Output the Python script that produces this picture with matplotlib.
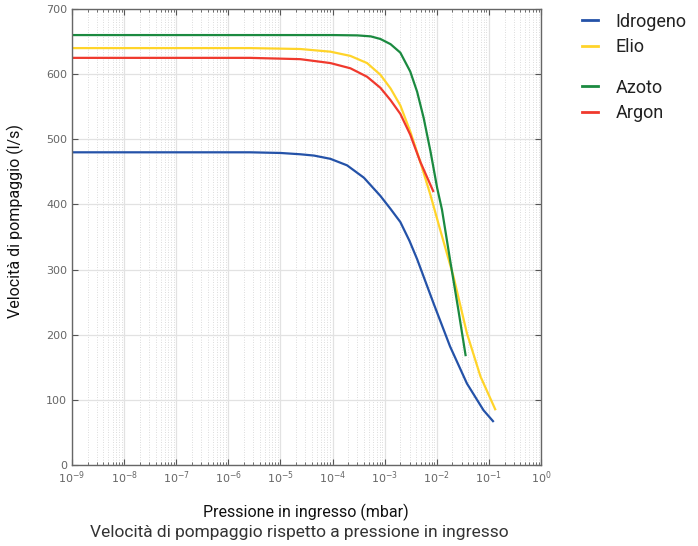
"""Pumping speed vs inlet pressure for four gases."""

import matplotlib.pyplot as plt
from matplotlib.ticker import LogLocator, NullFormatter, FixedLocator
from matplotlib.lines import Line2D

GAS_NAMES = ["Idrogeno", "Elio", "Azoto", "Argon"]
GAS_COLORS = ["#2452a8", "#ffd42a", "#1b8a40", "#f0392d"]

# pressure (mbar) / pumping speed (l/s)
P_IDROGENO = [1e-9, 2.6e-6, 1e-5, 2.4e-5, 4.4e-5, 9.1e-5, 1.9e-4, 4e-4, 8.3e-4,
              1.3e-3, 2e-3, 3e-3, 4.2e-3, 8.7e-3, 1.8e-2, 3.8e-2, 7.9e-2, 1.24e-1]
S_IDROGENO = [480, 480, 479, 477, 475, 470, 460, 441, 413,
              393, 373, 344, 316, 248, 182, 125, 84, 66]

P_ELIO = [1e-9, 2.6e-6, 2.4e-5, 9.1e-5, 2.2e-4, 4.6e-4, 8.3e-4, 1.3e-3, 2e-3,
          3.1e-3, 4.8e-3, 7.6e-3, 1.1e-2, 2.1e-2, 3.8e-2, 6.9e-2, 1.35e-1]
S_ELIO = [640, 640, 638.6, 634.5, 628, 617, 599, 578, 552,
          512, 466, 414, 368, 289, 202, 136, 84]

P_AZOTO = [1e-9, 1e-5, 1e-4, 3e-4, 5.4e-4, 8.3e-4, 1.3e-3, 2e-3, 3.1e-3, 4.2e-3,
           5.6e-3, 7.6e-3, 1.02e-2, 1.26e-2, 1.8e-2, 2.6e-2, 3.6e-2]
S_AZOTO = [660, 660, 660, 659.5, 658, 654, 646, 633, 604, 573,
           533, 481, 425, 392, 315, 238, 167]

P_ARGON = [1e-9, 2.6e-6, 2.4e-5, 9.1e-5, 2.2e-4, 4.6e-4, 8.3e-4, 1.3e-3, 2e-3,
           3.1e-3, 4.8e-3, 8.7e-3]
S_ARGON = [625, 625, 623, 617, 609, 596, 579, 560, 539,
           507, 466, 419]

X_DECADES = list(range(-9, 1))
Y_TICKS = [0, 100, 200, 300, 400, 500, 600, 700]


def main():
    fig = plt.figure(figsize=(6.98, 5.46), dpi=100)
    ax = fig.add_axes([0.1032, 0.1484, 0.6718, 0.8351])

    series = [(P_IDROGENO, S_IDROGENO), (P_ELIO, S_ELIO),
              (P_AZOTO, S_AZOTO), (P_ARGON, S_ARGON)]
    for (p, s), color in zip(series, GAS_COLORS):
        ax.plot(p, s, color=color, lw=1.6, solid_capstyle="butt",
                solid_joinstyle="round")

    ax.set_xscale("log")
    ax.set_xlim(1e-9, 1)
    ax.set_ylim(0, 700)
    ax.xaxis.set_major_locator(FixedLocator([10.0 ** d for d in X_DECADES]))
    ax.set_xticklabels([f"$10^{{{d}}}$" for d in X_DECADES])
    ax.xaxis.set_minor_locator(LogLocator(base=10, subs=range(2, 10), numticks=100))
    ax.xaxis.set_minor_formatter(NullFormatter())
    ax.set_yticks(Y_TICKS)

    ax.grid(True, which="major", color="#e2e2e2", lw=0.9)
    ax.grid(True, which="minor", axis="x", color="#d0d0d0", lw=0.6, ls=(0, (1, 2)))
    ax.set_axisbelow(True)

    ax.tick_params(which="both", direction="in", top=True, right=True,
                   colors="#555555", labelsize=8, labelcolor="#666666")
    ax.tick_params(which="major", length=4)
    ax.tick_params(which="minor", length=2.5)
    for spine in ax.spines.values():
        spine.set_color("#666666")
        spine.set_linewidth(1.0)

    fig.text(306 / 698, 1 - 512 / 546, "Pressione in ingresso (mbar)", ha="center",
             va="center", fontsize=11.5, family="Roboto", color="#111111")
    fig.text(15 / 698, 1 - 221 / 546, "Velocità di pompaggio (l/s)", ha="center",
             va="center", rotation=90, fontsize=11.5, family="Roboto", color="#111111")
    fig.text(299 / 698, 1 - 532 / 546,
             "Velocità di pompaggio rispetto a pressione in ingresso",
             ha="center", va="center", fontsize=12.5, family="Roboto", color="#333333")

    handles = [Line2D([0], [0], color=c, lw=2) for c in GAS_COLORS]
    for idx, y in [((0, 1), 0.99), ((2, 3), 0.869)]:
        leg = fig.legend([handles[i] for i in idx], [GAS_NAMES[i] for i in idx],
                         loc="upper left", bbox_to_anchor=(0.824, y), frameon=False,
                         prop={"family": "Roboto", "size": 13}, handlelength=0.85,
                         handletextpad=1.0, labelspacing=0.4, borderaxespad=0)
        for t in leg.get_texts():
            t.set_color("#222222")

    fig.savefig("out.png", dpi=100)


if __name__ == "__main__":
    main()
